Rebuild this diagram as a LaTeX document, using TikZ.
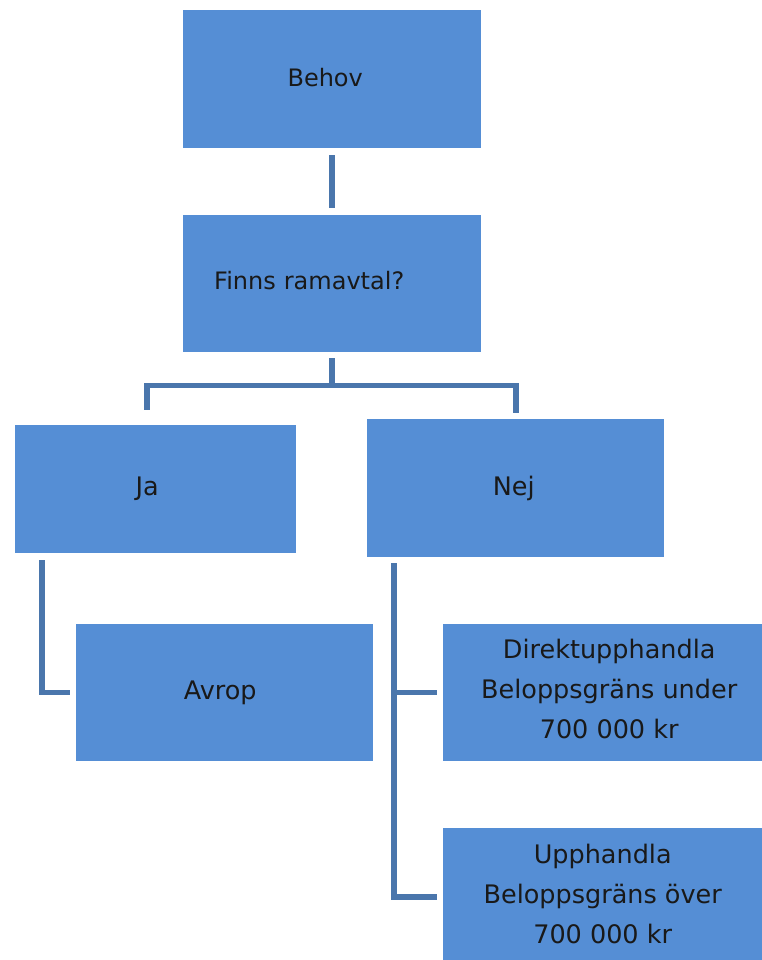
\documentclass[tikz,border=0pt]{standalone}
\usepackage{fontspec}
\setmainfont{DejaVu Sans}
\usetikzlibrary{calc}
\definecolor{boxblue}{HTML}{558ED5}
\definecolor{linkblue}{HTML}{4A76AC}
\tikzset{
  box/.style={fill=boxblue, draw=none, anchor=north west, inner sep=0pt, align=center, text=black!90},
  topfont/.style={font=\fontsize{24}{38}\selectfont},
  lowfont/.style={font=\fontsize{25.5}{40}\selectfont},
  link/.style={draw=linkblue, line width=5.5pt, line cap=butt, line join=miter}
}
\begin{document}
\begin{tikzpicture}[x=1pt,y=-1pt]
\useasboundingbox (0,0) rectangle (762,960);
\node[box, topfont, minimum width=298pt, minimum height=138pt, text depth=4pt] (behov) at (183,10) {\hspace*{-14pt}Behov};
\node[box, topfont, minimum width=298pt, minimum height=137pt, text width=236pt, inner xsep=31pt, align=left, text depth=6pt] (finns) at (183,215) {Finns ramavtal?};
\node[box, lowfont, minimum width=281pt, minimum height=128pt] (ja) at (15,425) {\hspace*{-17pt}Ja};
\node[box, lowfont, minimum width=297pt, minimum height=138pt] (nej) at (367,419) {\hspace*{-4pt}Nej};
\node[box, lowfont, minimum width=297pt, minimum height=137pt] (avrop) at (76,624) {\hspace*{-9pt}Avrop};
\node[box, lowfont, minimum width=319pt, minimum height=137pt, text depth=8pt] (direkt) at (443,624) {\hspace*{13pt}Direktupphandla\\\hspace*{13pt}Beloppsgräns under\\\hspace*{13pt}700 000 kr};
\node[box, lowfont, minimum width=319pt, minimum height=132pt] (upph) at (443,828) {Upphandla\\Beloppsgräns över\\700 000 kr};
% connectors
\draw[link, shorten <=7pt, shorten >=7pt] (behov.south) -- (finns.north);
\coordinate (brtop) at ($(finns.south)+(0,6)$);
\coordinate (jaend) at (147,410);
\coordinate (nejend) at (516,413);
\draw[link] (brtop) -- ++(0,27) -| (jaend);
\draw[link] (brtop) ++(0,27) -| (nejend);
\draw[link] ($(ja.south west)+(27,7)$) |- ($(avrop.west)+(-6,0)$);
\coordinate (nejtop) at ($(nej.south west)+(27,6)$);
\draw[link] (nejtop) |- ($(upph.west)+(-6,3)$);
\draw[link] (nejtop |- direkt.west) -- ($(direkt.west)+(-6,0)$);
\end{tikzpicture}
\end{document}
